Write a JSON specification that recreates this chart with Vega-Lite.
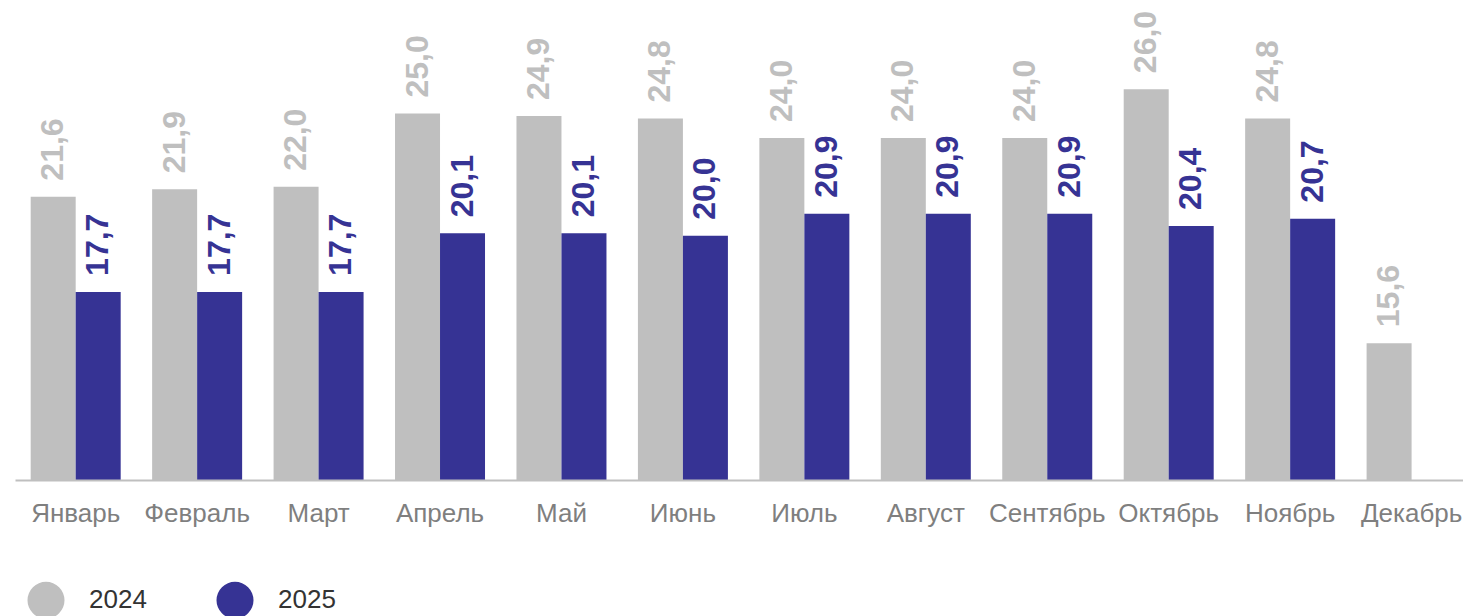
{
  "$schema": "https://vega.github.io/schema/vega-lite/v6.json",
  "autosize": {"type": "none"},
  "width": 1448,
  "height": 480,
  "padding": {"left": 15, "top": 0, "right": 0, "bottom": 136},
  "config": {
    "font": "Liberation Sans",
    "view": {"stroke": null},
    "locale": {"number": {"decimal": ",", "thousands": " ", "grouping": [3], "currency": ["", " ₽"]}}
  },
  "data": {"values": [
    {"month": "Январь", "year": "2024", "value": 21.6},
    {"month": "Январь", "year": "2025", "value": 17.7},
    {"month": "Февраль", "year": "2024", "value": 21.9},
    {"month": "Февраль", "year": "2025", "value": 17.7},
    {"month": "Март", "year": "2024", "value": 22.0},
    {"month": "Март", "year": "2025", "value": 17.7},
    {"month": "Апрель", "year": "2024", "value": 25.0},
    {"month": "Апрель", "year": "2025", "value": 20.1},
    {"month": "Май", "year": "2024", "value": 24.9},
    {"month": "Май", "year": "2025", "value": 20.1},
    {"month": "Июнь", "year": "2024", "value": 24.8},
    {"month": "Июнь", "year": "2025", "value": 20.0},
    {"month": "Июль", "year": "2024", "value": 24.0},
    {"month": "Июль", "year": "2025", "value": 20.9},
    {"month": "Август", "year": "2024", "value": 24.0},
    {"month": "Август", "year": "2025", "value": 20.9},
    {"month": "Сентябрь", "year": "2024", "value": 24.0},
    {"month": "Сентябрь", "year": "2025", "value": 20.9},
    {"month": "Октябрь", "year": "2024", "value": 26.0},
    {"month": "Октябрь", "year": "2025", "value": 20.4},
    {"month": "Ноябрь", "year": "2024", "value": 24.8},
    {"month": "Ноябрь", "year": "2025", "value": 20.7},
    {"month": "Декабрь", "year": "2024", "value": 15.6}
  ]},
  "encoding": {
    "x": {
      "field": "month", "type": "nominal", "sort": null,
      "scale": {"paddingInner": 0.259, "paddingOuter": 0.091, "align": 0.71},
      "axis": {
        "title": null, "labelAngle": 0, "ticks": false,
        "labelFontSize": 26, "labelColor": "#7F7F7F", "labelPadding": 20,
        "domainColor": "#BFBFBF", "domainWidth": 2, "labelFont": "Liberation Sans", "zindex": 1
      }
    },
    "xOffset": {"field": "year", "type": "nominal", "scale": {"paddingInner": 0, "paddingOuter": 0}},
    "y": {
      "field": "value", "type": "quantitative",
      "scale": {"domain": [10, 29.65], "nice": false, "zero": false},
      "axis": null
    },
    "color": {
      "field": "year", "type": "nominal",
      "scale": {"domain": ["2024", "2025"], "range": ["#BFBFBF", "#363394"]},
      "legend": {
        "title": null, "orient": "none", "direction": "horizontal",
        "legendX": 12, "legendY": 581, "padding": 0,
        "symbolType": "circle", "symbolSize": 1370, "symbolStrokeWidth": 0, "symbolOpacity": 1,
        "labelFontSize": 26, "labelColor": "#333333", "labelOffset": 24,
        "columnPadding": 69, "labelFont": "Liberation Sans"
      }
    }
  },
  "layer": [
    {"mark": {"type": "bar", "clip": true}},
    {
      "mark": {"type": "text", "angle": 270, "align": "left", "baseline": "middle", "dx": 16, "fontSize": 32, "fontWeight": "bold"},
      "encoding": {"text": {"field": "value", "type": "quantitative", "format": ".1f"}}
    }
  ]
}
